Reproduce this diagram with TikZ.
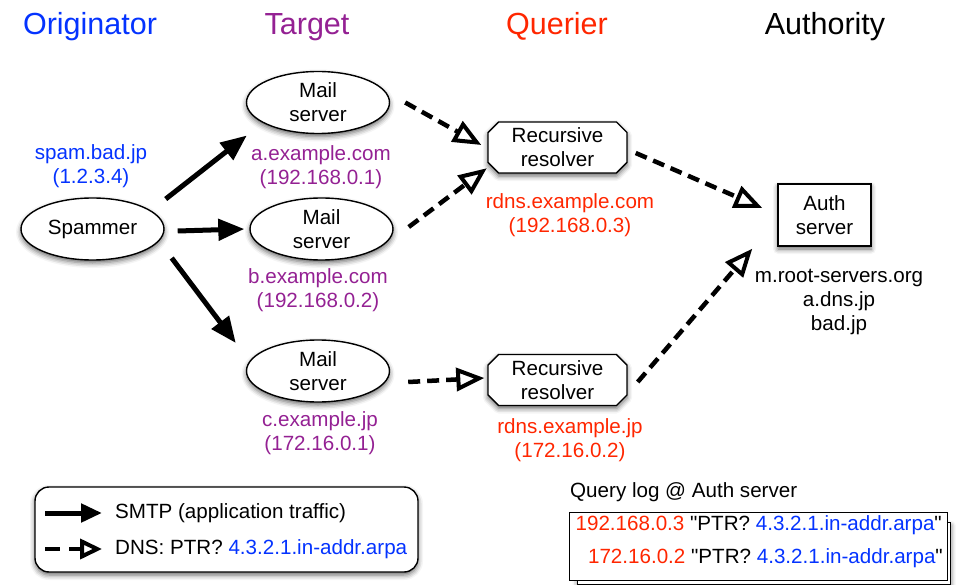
\documentclass[tikz,border=0pt]{standalone}
\usepackage{fontspec}
\setmainfont{Liberation Sans}[Ligatures=TeXOff]
\usetikzlibrary{arrows.meta,shapes.geometric,shapes.misc,shadows.blur}
\definecolor{cblue}{HTML}{0433FF}
\definecolor{cpurple}{HTML}{942193}
\definecolor{cred}{HTML}{FF2600}
\begin{document}
\begin{tikzpicture}[x=1pt,y=-1pt,
  every node/.style={font=\fontsize{20.6}{24}\selectfont, align=center, inner sep=0pt},
  shad/.style={blur shadow={shadow xshift=0pt, shadow yshift=-3pt, shadow blur radius=5pt, shadow opacity=60}},
  header/.style={font=\fontsize{30.5}{36}\selectfont, anchor=base},
  ellnode/.style={ellipse, draw, line width=1.4pt, fill=white, shad, minimum width=143pt, minimum height=62pt},
  resolver/.style={chamfered rectangle, chamfered rectangle xsep=7pt, draw, line width=1.4pt, fill=white, shad, minimum width=139pt, minimum height=51pt},
  authbox/.style={rectangle, draw, line width=1.4pt, fill=white, shad, minimum width=93pt, minimum height=62pt},
  smtp/.style={line width=5pt, -{Triangle[length=26pt,width=21pt]}},
  dns/.style={line width=4.5pt, dash pattern=on 12pt off 7pt, -{Triangle[open, length=28pt, width=23pt, line width=4pt]}},
  smtpleg/.style={line width=5pt, -{Triangle[length=21pt,width=18pt]}},
  dnsleg/.style={line width=4.5pt, dash pattern=on 15pt off 9pt, -{Triangle[open, length=22pt, width=20pt, line width=4pt]}},
  logbox/.style={rectangle, draw, line width=1.4pt, fill=white, anchor=north west}
]
\useasboundingbox (0,0) rectangle (958,585);

% headers
\node[header, text=cblue] (h1) at (90,35) {Originator};
\node[header, text=cpurple] (h2) at (307,35) {Target};
\node[header, text=cred] (h3) at (557,35) {Querier};
\node[header] (h4) at (825,35) {Authority};

% nodes
\node[ellnode] (sp) at (92.5,229) {Spammer};
\node[ellnode] (ma) at (318,102.5) {Mail\\server};
\node[ellnode] (mb) at (321.5,229) {Mail\\server};
\node[ellnode] (mc) at (318,371) {Mail\\server};
\node[resolver] (r1) at (557.5,147.5) {Recursive\\resolver};
\node[resolver] (r2) at (557.5,380) {Recursive\\resolver};
\node[authbox] (au) at (824.5,215) {Auth\\server};

% labels
\node[text=cblue] (lsp) at (91,166) {spam.bad.jp\\(1.2.3.4)};
\node[text=cpurple] (lma) at (321,167) {a.example.com\\(192.168.0.1)};
\node[text=cpurple] (lmb) at (318,290) {b.example.com\\(192.168.0.2)};
\node[text=cpurple] (lmc) at (320,433) {c.example.jp\\(172.16.0.1)};
\node[text=cred] (lr1) at (570,215) {rdns.example.com\\(192.168.0.3)};
\node[text=cred] (lr2) at (570,440) {rdns.example.jp\\(172.16.0.2)};
\node (lau) at (839,302) {m.root-servers.org\\a.dns.jp\\bad.jp};

% SMTP arrows
\draw[smtp] ([xshift=1pt,yshift=30pt]sp.east) -- ([xshift=1pt,yshift=-33pt]ma.west);
\draw[smtp] ([xshift=13pt,yshift=-2pt]sp.east) -- ([xshift=-5pt,yshift=0pt]mb.west);
\draw[smtp] ([xshift=7pt,yshift=-29pt]sp.east) -- ([xshift=-10pt,yshift=28pt]mc.west);

% DNS arrows
\draw[dns] ([xshift=15pt]ma.east) -- ([xshift=-6pt,yshift=2.5pt]r1.west);
\draw[dns] ([xshift=15pt,yshift=2pt]mb.east) -- ([xshift=-6pt]r1.south west);
\draw[dns] ([xshift=18pt,yshift=-11pt]mc.east) -- ([xshift=-3pt,yshift=2pt]r2.west);
\draw[dns] ([xshift=8pt,yshift=-5.5pt]r1.east) -- ([xshift=-15pt,yshift=7pt]au.west);
\draw[dns] ([xshift=10pt,yshift=-2pt]r2.east) -- ([xshift=-25pt,yshift=-2pt]au.south west);

% legend
\node[draw, rounded corners=14pt, line width=1.4pt, fill=white, shad, minimum width=383pt, minimum height=85pt] (lg) at (226.5,529.5) {};
\node[anchor=west] (lt1) at (115,513) {SMTP (application traffic)};
\node[anchor=west] (lt2) at (115,549) {DNS: PTR? \textcolor{cblue}{4.3.2.1.in-addr.arpa}};
\coordinate (l1a) at (45,513);
\coordinate (l2a) at (45,549);
\draw[smtpleg] (l1a) -- ([xshift=-13pt]lt1.west);
\draw[dnsleg] (l2a) -- ([xshift=-13pt]lt2.west);

% query log
\node[anchor=west] (qt) at (570,492) {Query log @ Auth server};
\node[logbox, shad, minimum width=373pt, minimum height=62pt] (qb) at (577,522) {};
\node[logbox, minimum width=378pt, minimum height=68pt] (qf) at (569,512) {};
\node[anchor=east] (q1) at (942,525) {\textcolor{cred}{192.168.0.3} "PTR? \textcolor{cblue}{4.3.2.1.in-addr.arpa}"};
\node[anchor=east] (q2) at (943,558) {\textcolor{cred}{172.16.0.2} "PTR? \textcolor{cblue}{4.3.2.1.in-addr.arpa}"};
\end{tikzpicture}
\end{document}
